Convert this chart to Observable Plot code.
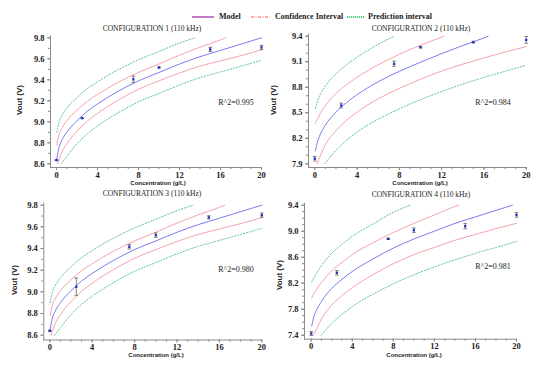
<!DOCTYPE html>
<html><head><meta charset="utf-8">
<script src="https://cdn.jsdelivr.net/npm/d3@7"></script>
<script src="https://cdn.jsdelivr.net/npm/@observablehq/plot@0.6"></script>
<style>
body{margin:0;background:#fff;}
#root{position:relative;width:550px;height:371px;overflow:hidden;background:#fff;}
.pnl{position:absolute;}
.txt{position:absolute;white-space:nowrap;transform:translate(-50%,-50%);line-height:1;color:#222;}
.ttl{font-family:"Liberation Serif",serif;font-size:7.5px;}
.ax{font-family:"Liberation Sans",Arial,sans-serif;font-weight:bold;}
.r2{font-family:"Liberation Serif",serif;font-size:8px;}
.lg{font-family:"Liberation Serif",serif;font-weight:bold;font-size:8px;transform:translate(0,-50%);}
</style></head><body><div id="root"></div>
<script>
// ---- data ----
const concentration = [0, 2.5, 7.5, 10, 15, 20];
const vout1 = [8.635, 9.035, 9.405, 9.517, 9.689, 9.708];
const err1  = [0.004, 0.004, 0.03, 0.004, 0.02, 0.02];
const vout2 = [7.959, 8.585, 9.075, 9.271, 9.33, 9.357];
const err2  = [0.027, 0.027, 0.03, 0.01, 0.01, 0.04];
const vout3 = [8.64, 9.047, 9.416, 9.523, 9.687, 9.708];
const err3  = [0.005, 0.08, 0.02, 0.02, 0.015, 0.02];
const vout4 = [7.426, 8.359, 8.882, 9.015, 9.077, 9.25];
const err4  = [0.03, 0.035, 0.01, 0.035, 0.04, 0.035];

// fitted curves (configurations 1 and 3 share the same curves): [concentration, Vout]
const model13   = [[0.03,8.65],[0.25,8.76],[0.5,8.82],[1,8.90],[2,9.01],[3,9.10],[4,9.17],[6,9.29],[8,9.39],[10,9.47],[12,9.55],[14,9.62],[16,9.68],[18,9.74],[20,9.80]];
const ciUpper13 = [[0.03,8.78],[0.25,8.88],[0.5,8.935],[1,9.01],[2,9.11],[3,9.195],[4,9.26],[6,9.375],[8,9.47],[10,9.55],[12,9.635],[14,9.71],[16,9.78],[16.5,9.80]];
const ciLower13 = [[0.13,8.60],[0.25,8.64],[0.5,8.705],[1,8.79],[2,8.91],[3,9.005],[4,9.08],[6,9.205],[8,9.31],[10,9.39],[12,9.465],[14,9.53],[16,9.58],[18,9.63],[20,9.685]];
const piUpper13 = [[0.03,8.90],[0.25,9.00],[0.5,9.055],[1,9.13],[2,9.23],[3,9.315],[4,9.38],[6,9.495],[8,9.59],[10,9.67],[12,9.75],[13.5,9.80]];
const piLower13 = [[0.45,8.60],[1,8.67],[2,8.79],[3,8.885],[4,8.96],[6,9.085],[8,9.19],[10,9.27],[12,9.35],[14,9.42],[16,9.475],[18,9.53],[20,9.585]];

const model2   = [[0.05,8.05],[0.25,8.154],[0.5,8.24],[1,8.354],[2,8.507],[3,8.62],[4,8.713],[6,8.864],[8,8.987],[10,9.094],[12,9.195],[14,9.29],[16,9.38],[16.4,9.40]];
const ciUpper2 = [[0.05,8.38],[0.25,8.424],[0.5,8.49],[1,8.584],[2,8.727],[3,8.83],[4,8.918],[6,9.064],[8,9.187],[10,9.294],[12,9.39],[12.2,9.40]];
const ciLower2 = [[0.22,7.90],[0.5,7.99],[1,8.124],[2,8.287],[3,8.41],[4,8.508],[6,8.664],[8,8.787],[10,8.894],[12,8.99],[14,9.071],[16,9.145],[18,9.213],[20,9.278]];
const piUpper2 = [[0.05,8.55],[0.25,8.634],[0.5,8.71],[1,8.814],[2,8.957],[3,9.065],[4,9.153],[6,9.304],[7.5,9.40]];
const piLower2 = [[0.95,7.90],[2,8.057],[3,8.175],[4,8.273],[6,8.424],[8,8.547],[10,8.654],[12,8.749],[14,8.836],[16,8.915],[18,8.988],[20,9.058]];

const model4   = [[0.05,7.54],[0.25,7.68],[0.5,7.78],[1,7.92],[2,8.12],[3,8.26],[4,8.38],[6,8.57],[8,8.74],[10,8.88],[12,9.00],[14,9.12],[16,9.22],[18,9.32],[19.6,9.40]];
const ciUpper4 = [[0.05,7.97],[0.25,8.04],[0.5,8.10],[1,8.21],[2,8.39],[3,8.52],[4,8.64],[6,8.82],[8,8.98],[10,9.12],[12,9.25],[14,9.38],[14.4,9.40]];
const ciLower4 = [[0.2,7.40],[0.5,7.49],[1,7.65],[2,7.86],[3,8.01],[4,8.13],[6,8.33],[8,8.50],[10,8.64],[12,8.75],[14,8.86],[16,8.95],[18,9.04],[20,9.12]];
const piUpper4 = [[0.05,8.22],[0.25,8.28],[0.5,8.35],[1,8.47],[2,8.66],[3,8.80],[4,8.92],[6,9.11],[8,9.29],[9.6,9.40]];
const piLower4 = [[0.97,7.40],[2,7.58],[3,7.72],[4,7.84],[6,8.03],[8,8.19],[10,8.33],[12,8.45],[14,8.56],[16,8.66],[18,8.75],[20,8.84]];

const xTicks = [0, 4, 8, 12, 16, 20];
const yTicks13 = [8.6, 8.8, 9, 9.2, 9.4, 9.6, 9.8];
const yTicks2 = [7.9, 8.2, 8.5, 8.8, 9.1, 9.4];
const yTicks4 = [7.4, 7.8, 8.2, 8.6, 9, 9.4];
const titles = ["CONFIGURATION 1 (110 kHz)", "CONFIGURATION 2 (110 kHz)", "CONFIGURATION 3 (110 kHz)", "CONFIGURATION 4 (110 kHz)"];
const r2Labels = ["R^2=0.995", "R^2=0.984", "R^2=0.980", "R^2=0.981"];
const legendLabels = ["Model", "Confidence Interval", "Prediction interval"];
const xTitle = "Concentration (g/L)";
const yTitle = "Vout (V)";

// ---- drawing ----
const root = document.getElementById("root");
const C = {model:"#7b7bf0", ci:"#f5a3ab", pi:"#5cc29a", axis:"#8a8a8a", pt:"#2233cc", bar:"#666"};
const hline = {draw(ctx, size){ const r = Math.sqrt(size/Math.PI); ctx.moveTo(-r,0); ctx.lineTo(r,0); }};

function text(str, cx, cy, cls, extra){
  const d = document.createElement("div");
  d.className = "txt " + cls; d.textContent = str;
  d.style.left = cx + "px"; d.style.top = cy + "px";
  if (extra) Object.assign(d.style, extra);
  root.appendChild(d);
}

function panel(c){
  const pts = concentration.map((x,i)=>({x, y:c.vout[i], e:c.err[i]}));
  const minorY = d3.range(Math.round(c.yDomain[0]*10), Math.round(c.yDomain[1]*10)+1).map(v=>v/10);
  const minorX = d3.range(0, 21);
  const line = (data, stroke, extra={}) => Plot.line(data, {x: d=>d[0], y: d=>d[1], stroke, strokeWidth: 1, curve: "monotone-x", ...extra});
  const svg = Plot.plot({
    width: c.w, height: c.h,
    marginLeft: c.frameL - c.left, insetLeft: c.xr0 - c.frameL,
    marginRight: c.left + c.w - c.xr1, insetRight: 0,
    marginTop: c.yTop - c.top - 2, insetTop: 2,
    marginBottom: c.top + c.h - c.frameB, insetBottom: c.frameB - c.yBot,
    x: {domain: [0, 20]},
    y: {domain: c.yDomain},
    style: {fontFamily: "Liberation Serif, serif", fontSize: "8.5px", fontWeight: "bold", background: "transparent", color: "#222", overflow: "visible"},
    marks: [
      Plot.frame({anchor: "left", stroke: C.axis}),
      Plot.frame({anchor: "bottom", stroke: C.axis}),
      Plot.axisY({ticks: minorY, tickSize: 2, tickFormat: () => "", stroke: C.axis, label: null}),
      Plot.axisY({ticks: c.yTicks, tickSize: 3, tickPadding: 3, stroke: C.axis, label: null}),
      Plot.axisX({ticks: minorX, tickSize: 2, tickFormat: () => "", stroke: C.axis, label: null}),
      Plot.axisX({ticks: xTicks, tickSize: 3, tickPadding: 1, stroke: C.axis, label: null}),
      line(c.piUpper, C.pi, {strokeDasharray: "1.2,1.8"}),
      line(c.piLower, C.pi, {strokeDasharray: "1.2,1.8"}),
      line(c.ciUpper, C.ci),
      line(c.ciLower, C.ci),
      line(c.model, C.model),
      Plot.ruleX(pts, {x: "x", y1: d=>d.y-d.e, y2: d=>d.y+d.e, stroke: C.bar, strokeWidth: 0.8}),
      Plot.dot(pts, {x: "x", y: d=>d.y-d.e, symbol: hline, r: 1.8, stroke: C.bar, strokeWidth: 0.8}),
      Plot.dot(pts, {x: "x", y: d=>d.y+d.e, symbol: hline, r: 1.8, stroke: C.bar, strokeWidth: 0.8}),
      Plot.dot(pts, {x: "x", y: "y", symbol: "square", r: 1.3, fill: C.pt, stroke: "none"})
    ]
  });
  svg.classList.add("pnl");
  svg.style.left = c.left + "px"; svg.style.top = c.top + "px";
  root.appendChild(svg);
  text(c.title, c.titleX, c.titleY, "ttl");
  text(c.r2, c.r2X, c.r2Y, "r2");
  text(xTitle, c.xlabX, c.xlabY, "ax", {fontSize: "6px"});
  text(yTitle, c.ylabX, c.ylabY, "ax", {fontSize: "8px", transform: "translate(-50%,-50%) rotate(-90deg)"});
}

panel({left:0, top:0, w:275, h:185, frameL:50, xr0:56, xr1:261, yTop:37.3, yBot:163.3, frameB:167,
  yDomain:[8.6, 9.8], yTicks:yTicks13, vout:vout1, err:err1,
  model:model13, ciUpper:ciUpper13, ciLower:ciLower13, piUpper:piUpper13, piLower:piLower13,
  title:titles[0], titleX:152, titleY:29, r2:r2Labels[0], r2X:236, r2Y:103, xlabX:158, xlabY:183, ylabX:20, ylabY:100});
panel({left:275, top:0, w:275, h:185, frameL:308, xr0:314.3, xr1:525.7, yTop:35.7, yBot:163.3, frameB:167,
  yDomain:[7.9, 9.4], yTicks:yTicks2, vout:vout2, err:err2,
  model:model2, ciUpper:ciUpper2, ciLower:ciLower2, piUpper:piUpper2, piLower:piLower2,
  title:titles[1], titleX:421, titleY:29, r2:r2Labels[1], r2X:493, r2Y:103, xlabX:420, xlabY:183, ylabX:274, ylabY:100});
panel({left:0, top:185, w:275, h:186, frameL:43.3, xr0:49.3, xr1:261.3, yTop:204.7, yBot:334.7, frameB:339.5,
  yDomain:[8.6, 9.8], yTicks:yTicks13, vout:vout3, err:err3,
  model:model13, ciUpper:ciUpper13, ciLower:ciLower13, piUpper:piUpper13, piLower:piLower13,
  title:titles[2], titleX:152, titleY:194, r2:r2Labels[2], r2X:236, r2Y:270, xlabX:156, xlabY:355, ylabX:15, ylabY:280});
panel({left:275, top:185, w:275, h:186, frameL:304, xr0:310.7, xr1:516, yTop:204.7, yBot:334.7, frameB:338.7,
  yDomain:[7.4, 9.4], yTicks:yTicks4, vout:vout4, err:err4,
  model:model4, ciUpper:ciUpper4, ciLower:ciLower4, piUpper:piUpper4, piLower:piLower4,
  title:titles[3], titleX:421, titleY:195, r2:r2Labels[3], r2X:493, r2Y:267, xlabX:414, xlabY:355, ylabX:280, ylabY:275});

// legend
const lg = d3.select(root).append("svg").attr("width", 550).attr("height", 26)
  .style("position","absolute").style("left","0px").style("top","4px");
lg.append("line").attr("x1",192).attr("x2",214).attr("y1",13).attr("y2",13).attr("stroke","#c27bc6").attr("stroke-width",2);
lg.append("line").attr("x1",251).attr("x2",270).attr("y1",13).attr("y2",13).attr("stroke","#ff4d4d").attr("stroke-width",1).attr("stroke-dasharray","3,1.5,1,1.5");
lg.append("line").attr("x1",347).attr("x2",365).attr("y1",13).attr("y2",13).attr("stroke","#1fb84f").attr("stroke-width",1.3).attr("stroke-dasharray","1.2,0.8");
text(legendLabels[0], 219, 17, "lg");
text(legendLabels[1], 275, 17, "lg");
text(legendLabels[2], 368, 17, "lg");
</script></body></html>
